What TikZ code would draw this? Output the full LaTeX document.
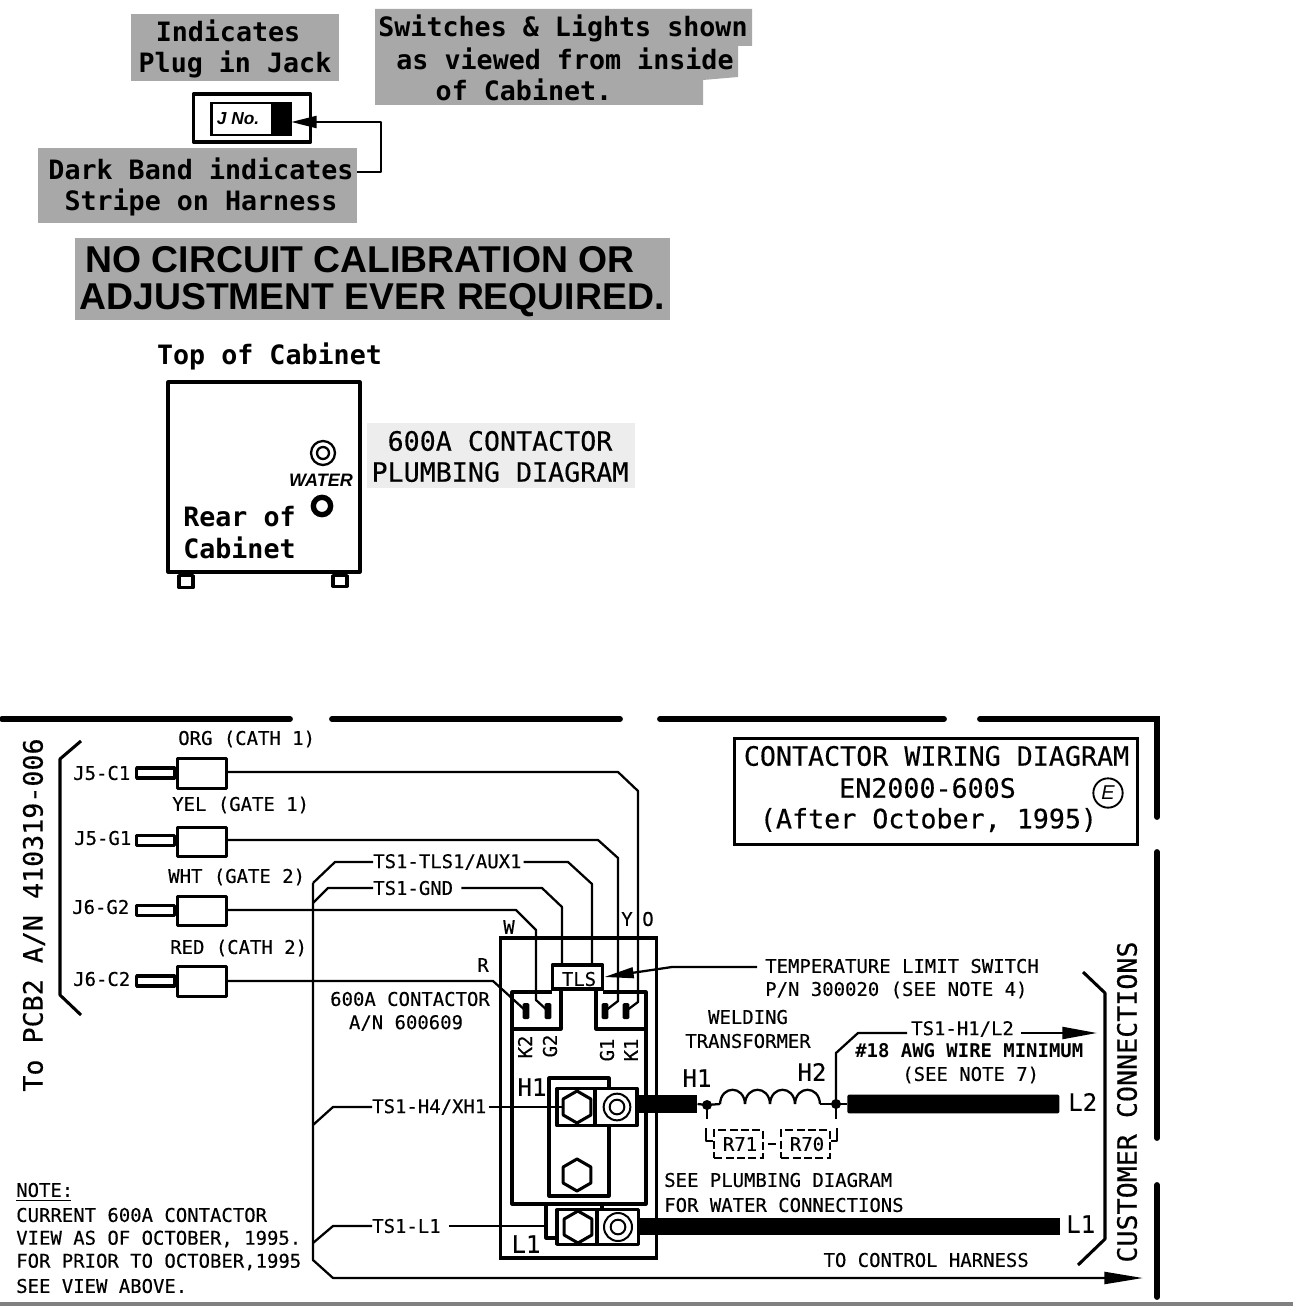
\documentclass[tikz,border=0pt]{standalone}
\usepackage{fontspec}
\setmonofont{DejaVu Sans Mono}[FakeBold=0.35]
\newfontfamily\boldmono{DejaVu Sans Mono Bold}
\newfontfamily\arialf{Liberation Sans}
\usetikzlibrary{arrows.meta,shapes.geometric,calc}
\definecolor{scangray}{gray}{0.66}
\definecolor{lightscan}{gray}{0.93}
\tikzset{
  lbl/.style={inner sep=0pt,font=\ttfamily\fontsize{14.2}{16}\selectfont,text=black},
  big/.style={inner sep=0pt,font=\ttfamily\fontsize{20}{22}\selectfont,text=black},
  bigb/.style={inner sep=0pt,font=\boldmono\fontsize{20}{22}\selectfont,text=black},
  term/.style={inner sep=0pt,font=\ttfamily\fontsize{18}{20}\selectfont,text=black},
  wire/.style={line width=1.7pt,line join=round},
  heavy/.style={line width=2.3pt,line join=round},
  border/.style={line width=4.4pt,line cap=round},
  bar/.style={fill=black,draw=none,inner sep=0pt},
  plugbody/.style={draw,heavy,fill=white,minimum width=36.5pt,minimum height=22pt,inner sep=0pt},
  plugpin/.style={draw,heavy,fill=white,minimum width=28.5pt,minimum height=7.5pt,inner sep=0pt,anchor=east},
  padbar/.style={fill=black,rounded corners=1pt,minimum width=5pt,minimum height=12pt,inner sep=0pt},
  hexnut/.style={draw,heavy,regular polygon,regular polygon sides=6,shape border rotate=30,minimum size=24pt,inner sep=0pt},
  ring/.style={draw,line width=1.5pt,circle,inner sep=0pt},
  dashbox/.style={draw,line width=1.6pt,dashed,dash pattern=on 6pt off 2.5pt,minimum width=36.5pt,minimum height=21pt,inner sep=0pt},
}
\begin{document}
\begin{tikzpicture}[x=0.75pt,y=-0.75pt]
\useasboundingbox (0,0) rectangle (1293,1312);
% ---------- top notes
\fill[scangray] (131,14) rectangle (339,81);
\fill[scangray] (375,9) -- (752,9) -- (752,46) -- (738,46) -- (738,77) -- (703,80) -- (703,105) -- (375,105) -- cycle;
\fill[scangray] (38,148) rectangle (357,223);
\fill[scangray] (75,238) rectangle (670,320);
\fill[lightscan] (367,423) rectangle (635,488);
\node[bigb] (t1) at (228,31) {Indicates};
\node[bigb] (t2) at (235,64) {Plug in Jack};
\node[bigb] (t3) at (563,28) {Switches \& Lights shown};
\node[bigb] (t4) at (565,59) {as viewed from inside};
\node[bigb] (t5) at (524,90) {of Cabinet.};
\node[bigb] (t6) at (201,169) {Dark Band indicates};
\node[bigb] (t7) at (201,202) {Stripe on Harness};
\node[inner sep=0pt,font=\arialf\bfseries\fontsize{28}{30}\selectfont] (t8) at (360,260) {NO CIRCUIT CALIBRATION OR};
\node[inner sep=0pt,font=\arialf\bfseries\fontsize{28}{30}\selectfont] (t9) at (372,300) {ADJUSTMENT EVER REQUIRED.};
% ---------- jack legend
\node[draw,heavy,minimum width=88pt,minimum height=36pt,inner sep=0pt] (jack) at (252,118) {};
\node[draw,line width=2pt,minimum width=59pt,minimum height=24pt,inner sep=0pt] (plug) at (251,119) {};
\node[bar,minimum width=15pt,minimum height=24pt] (band) at (281,119) {};
\node[inner sep=0pt,font=\arialf\bfseries\itshape\fontsize{13}{14}\selectfont] (jno) at (238,119) {J No.};
\coordinate (bend1) at (381,122);
\coordinate (bend2) at (381,172);
\draw[wire,-{Triangle[length=19pt,width=9pt]}] ($(t6.east)+(3,3)$) -- (bend2) -- (bend1) -- (band.east |- bend1);
% ---------- plumbing diagram
\node[bigb] (topc) at (269.5,356) {Top of Cabinet};
\node[draw,heavy,minimum width=144pt,minimum height=142.5pt,inner sep=0pt] (cab) at (264,477) {};
\node[draw,heavy,minimum width=10.5pt,minimum height=9pt,inner sep=0pt,anchor=north] (foot1) at (186,574) {};
\node[draw,heavy,minimum width=10.5pt,minimum height=8pt,inner sep=0pt,anchor=north] (foot2) at (340,574) {};
\node[ring,minimum size=18pt,line width=1.7pt] (w1) at (323,453) {};
\node[ring,minimum size=9pt,line width=1.7pt] (w1b) at (323,453) {};
\node[ring,minimum size=13pt,line width=4pt] (w2) at (322,506) {};
\node[inner sep=0pt,font=\arialf\bfseries\itshape\fontsize{13.5}{15}\selectfont] (water) at (321,480) {WATER};
\node[bigb,anchor=west] (r1) at (183,517) {Rear of};
\node[bigb,anchor=west] (r2) at (183,548) {Cabinet};
\node[big] (p1) at (500,441) {600A CONTACTOR};
\node[big] (p2) at (500,472) {PLUMBING DIAGRAM};
% ---------- border
\draw[border] (2,719) -- (290,719);
\draw[border] (332,719) -- (620,719);
\draw[border] (660,719) -- (944,719);
\draw[border] (980,719) -- (1157,719) -- (1157,817);
\draw[border] (1157,852) -- (1157,1138);
\draw[border] (1157,1185) -- (1157,1297);
\draw[gray,line width=3pt] (0,1304) -- (1293,1304);
% ---------- left side
\node[big,rotate=90] (pcb) at (34,915) {To PCB2 A/N 410319-006};
\coordinate (bl1) at (81,741);
\coordinate (bl2) at (60,759);
\coordinate (bl3) at (60,995);
\coordinate (bl4) at (81,1015);
\draw[heavy] (bl1) -- (bl2) -- (bl3) -- (bl4);
\node[lbl,anchor=west] (j1) at (73,773) {J5-C1};
\node[lbl,anchor=west] (j2) at (74,838) {J5-G1};
\node[lbl,anchor=west] (j3) at (72,907) {J6-G2};
\node[lbl,anchor=west] (j4) at (73,979) {J6-C2};
\node[lbl,anchor=west] (n1) at (178,739) {ORG (CATH 1)};
\node[lbl,anchor=west] (n2) at (172,805) {YEL (GATE 1)};
\node[lbl,anchor=west] (n3) at (168,877) {WHT (GATE 2)};
\node[lbl,anchor=west] (n4) at (170,948) {RED (CATH 2)};
\node[plugbody] (b1) at (202,773.5) {};
\node[plugbody] (b2) at (202,842) {};
\node[plugbody] (b3) at (202,911) {};
\node[plugbody] (b4) at (202,981.5) {};
\node[plugpin] (pin1) at (b1.west |- 0,773) {};
\node[plugpin] (pin2) at (b2.west |- 0,840.5) {};
\node[plugpin] (pin3) at (b3.west |- 0,910.5) {};
\node[plugpin] (pin4) at (b4.west |- 0,981) {};
% ---------- contactor
\node[draw,line width=2.6pt,minimum width=117pt,minimum height=240pt,inner sep=0pt] (cont) at (578.5,1098) {};
\draw[heavy] (561,989) -- (561,1029) -- (512,1029) -- (512,1204) -- (646,1204) -- (646,1029) -- (596,1029) -- (596,989);
\draw[heavy] (552,992) -- (512,992) -- (512,1029);
\draw[heavy] (603,992) -- (646,992) -- (646,1029);
\node[draw,heavy,fill=white,minimum width=38pt,minimum height=18pt,inner sep=0pt] (tls) at (577.5,977) {};
\node[lbl] (tlst) at (579,979) {TLS};
\node[padbar] (padR) at (526,1011) {};
\node[padbar] (padW) at (548,1011) {};
\node[padbar] (padY) at (605,1011) {};
\node[padbar] (padO) at (626,1011) {};
\node[lbl,rotate=90] (k2) at (525,1047) {K2};
\node[lbl,rotate=90] (g2) at (550,1046) {G2};
\node[lbl,rotate=90] (g1) at (607,1050) {G1};
\node[lbl,rotate=90] (k1) at (631,1050) {K1};
\node[term] (h1a) at (532,1087) {H1};
\node[term] (l1a) at (526,1244) {L1};
\draw[heavy] (609,1088) -- (609,1078) -- (549,1078) -- (549,1196) -- (609,1196) -- (609,1126);
\node[draw,heavy,fill=white,minimum width=28.5pt,minimum height=28pt,inner sep=0pt] (th1) at (576,1107) {};
\node[draw,heavy,fill=white,minimum width=31.5pt,minimum height=28pt,inner sep=0pt] (th2) at (616,1107) {};
\node[hexnut] (hex1) at (577,1107) {};
\node[ring,minimum size=20pt] (c1) at (617,1107) {};
\node[ring,minimum size=11pt] (c1b) at (617,1107) {};
\node[hexnut] (hex2) at (577,1175) {};
\node[draw,heavy,fill=white,minimum width=30pt,minimum height=26pt,inner sep=0pt] (tl1) at (577,1227) {};
\node[draw,heavy,fill=white,minimum width=30.5pt,minimum height=26pt,inner sep=0pt] (tl2) at (618,1227) {};
\node[hexnut] (hex3) at (578,1227) {};
\node[ring,minimum size=21pt] (c2) at (618,1227) {};
\node[ring,minimum size=11pt] (c2b) at (618,1227) {};
\coordinate (s1) at (546,1204);
\coordinate (s2) at (546,1238);
\draw[heavy] (s1) -- (s2) -- (tl1.west |- s2);
\draw[heavy] (602,1204) -- (602,1209);
% ---------- wires to contacts
\node[lbl] at (483,965) (lr) {R};
\node[lbl] at (509,927) (lw) {W};
\node[lbl] at (627,919) (ly) {Y};
\node[lbl] at (648,919) (lo) {O};
\draw[wire] (b1.east |- 0,772) -- (618,772) -- (638,791) -- (638,1002) -- (padO.center);
\draw[wire] (b2.east |- 0,840) -- (598,840) -- (618,858) -- (618,1001) -- (padY.center);
\draw[wire] (b3.east |- 0,910) -- (516,910) -- (536,930) -- (536,1000) -- (padW.center);
\draw[wire] (b4.east |- 0,981) -- (493,981) -- (padR.center);
\node[lbl,anchor=west] (ts1) at (373,862) {TS1-TLS1/AUX1};
\node[lbl,anchor=west] (ts2) at (373,888) {TS1-GND};
\node[lbl,anchor=west] (ts3) at (372,1107) {TS1-H4/XH1};
\node[lbl,anchor=west] (ts4) at (372,1226) {TS1-L1};
\draw[wire] ($(ts1.east)+(2,0)$) -- (568,862) -- (592,884) -- (592,965);
\draw[wire] ($(ts2.east)+(8,0)$) -- (542,888) -- (562,907) -- (562,965);
\draw[wire] ($(ts3.east)+(2,0)$) -- (hex1.west);
\draw[wire] ($(ts4.east)+(8,0)$) -- (s1 |- ts4);
\coordinate (tip) at (1143,1278);
\draw[wire,-{Triangle[length=29pt,width=9pt]}] (313,883) -- (313,1260) -- (333,1278) -- (tip);
\draw[wire] (313,883) -- (335,862) -- (ts1.west);
\draw[wire] (313,903) -- (328,888) -- (ts2.west);
\draw[wire] (313,1125) -- (333,1107) -- (ts3.west);
\draw[wire] (313,1243) -- (333,1226) -- (ts4.west);
\node[lbl] (c1t) at (410,999) {600A CONTACTOR};
\node[lbl] (c2t) at (406,1023) {A/N 600609};
% ---------- note
\node[lbl,anchor=west] (nt) at (16,1190) {NOTE:};
\draw[line width=1pt] ($(nt.south west)+(0,3)$) -- ++(55,0);
\node[lbl,anchor=west] (nt1) at (16,1215) {CURRENT 600A CONTACTOR};
\node[lbl,anchor=west] (nt2) at (16,1239) {VIEW AS OF OCTOBER, 1995.};
\node[lbl,anchor=west] (nt3) at (16,1262) {FOR PRIOR TO OCTOBER,1995};
\node[lbl,anchor=west] (nt4) at (16,1286) {SEE VIEW ABOVE.};
% ---------- title
\node[draw,line width=2.6pt,minimum width=302pt,minimum height=79.5pt,inner sep=0pt] (title) at (936,791.5) {};
\node[big] (ti1) at (936.5,756) {CONTACTOR WIRING DIAGRAM};
\node[big] (ti2) at (927.5,788) {EN2000-600S};
\node[big] (ti3) at (928.5,820) {(After October, 1995)};
\node[draw,line width=1.4pt,circle,minimum size=22pt,inner sep=0pt,font=\arialf\itshape\fontsize{15}{16}\selectfont] (rev) at (1108,793) {E};
% ---------- transformer
\node[lbl,anchor=west] (tl) at (765,966) {TEMPERATURE LIMIT SWITCH};
\node[lbl,anchor=west] (tp) at (765,990) {P/N 300020 (SEE NOTE 4)};
\coordinate (tb) at (672,967);
\draw[wire,-{Triangle[length=22pt,width=8pt]}] ($(tl.west)+(-8,1)$) -- (tb) -- (tls.east);
\node[lbl] (wt1) at (748,1017) {WELDING};
\node[lbl] (wt2) at (748,1041) {TRANSFORMER};
\node[term] (h1b) at (697,1078) {H1};
\node[term] (h2b) at (812,1072) {H2};
\node[bar,minimum width=45pt,minimum height=13.5pt,anchor=west] (bh1) at (637,1104) {};
\node[bar,circle,minimum size=7.5pt] (d1) at (707,1105) {};
\node[bar,circle,minimum size=7.5pt] (d2) at (836,1104) {};
\node[bar,rounded corners=1pt,minimum width=159pt,minimum height=14pt,anchor=west] (bh2) at (847,1104) {};
\node[bar,minimum width=316pt,minimum height=13pt,anchor=west] (bl) at (638,1226.5) {};
\node[term,anchor=west] (l2t) at (1068,1102) {L2};
\node[term,anchor=west] (l1t) at (1066,1224) {L1};
\draw[wire] (bh1.east) -- (d1.center) -- (720,1104);
\foreach \x in {720,745,770,795}
  \draw[wire] (\x,1104) .. controls ({\x+1},1085) and ({\x+24},1085) .. ({\x+25},1104);
\draw[wire] (820,1104) -- (d2.center) -- (bh2.west);
\node[lbl,anchor=west] (tsh) at (911,1029) {TS1-H1/L2};
\coordinate (arrowend) at (1097,1033);
\draw[wire] (d2.center) -- (836,1053) -- (858,1033) -- ($(tsh.west)+(-4,4)$);
\draw[wire,-{Triangle[length=26pt,width=9pt]}] ($(tsh.east)+(7,4)$) -- (arrowend);
\node[inner sep=0pt,font=\boldmono\fontsize{14.2}{16}\selectfont,anchor=west] (awg) at (855,1051) {\#18 AWG WIRE MINIMUM};
\node[lbl,anchor=west] (sn7) at (902,1075) {(SEE NOTE 7)};
\node[lbl,anchor=west] (see1) at (664,1180) {SEE PLUMBING DIAGRAM};
\node[lbl,anchor=west] (see2) at (664,1205) {FOR WATER CONNECTIONS};
\node[lbl,anchor=east] (tch) at (1029,1260) {TO CONTROL HARNESS};
% ---------- shunt
\node[dashbox] (r71) at (738.5,1144) {};
\node[dashbox] (r70) at (805.5,1144) {};
\node[lbl] (r71t) at (740,1144) {R71};
\node[lbl] (r70t) at (807,1144) {R70};
\draw[wire] ($(r71.east)+(4,0)$) -- ($(r70.west)+(-4,0)$);
\draw[wire] (d1.center) -- (707,1119);
\draw[wire] (d2.center) -- (836,1119);
\draw[wire] (706,1128) -- (706,1141) -- (r71.west |- 0,1141);
\draw[wire] (837,1128) -- (837,1141) -- (r70.east |- 0,1141);
% ---------- customer connections
\coordinate (cb1) at (1083,972);
\coordinate (cb2) at (1105,993);
\coordinate (cb3) at (1105,1239);
\coordinate (cb4) at (1078,1265);
\draw[heavy] (cb1) -- (cb2) -- (cb3) -- (cb4);
\node[big,rotate=90] (cc) at (1127,1102) {CUSTOMER CONNECTIONS};
\end{tikzpicture}
\end{document}
